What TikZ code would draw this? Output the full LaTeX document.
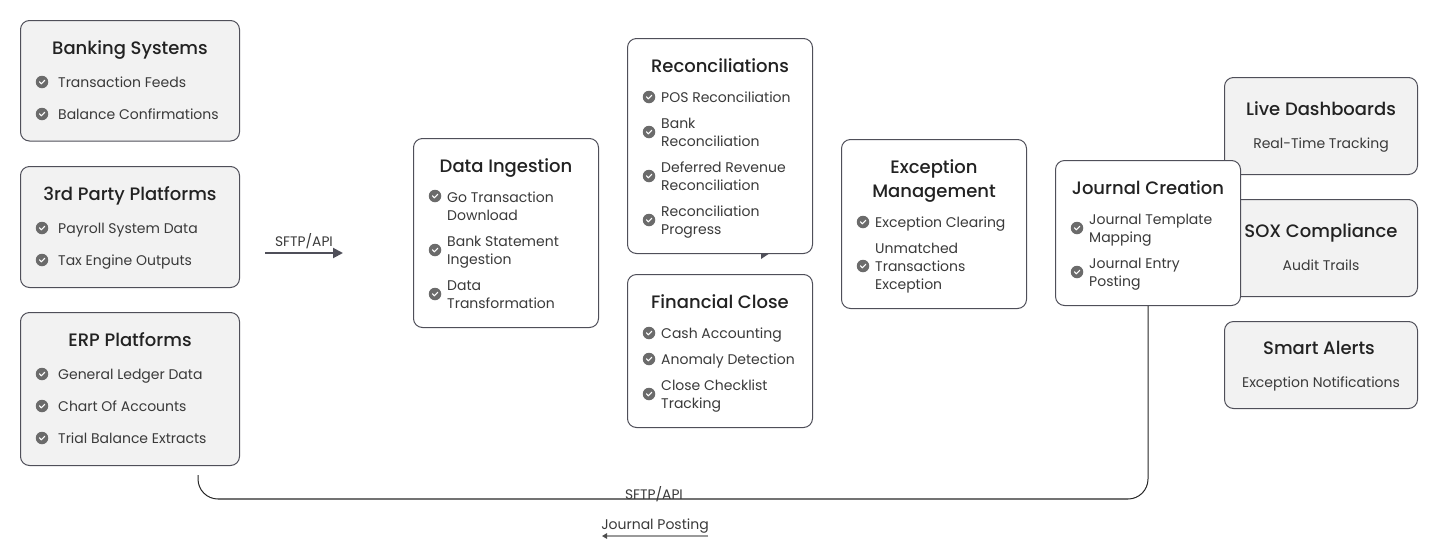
\documentclass[tikz,border=0pt]{standalone}
\usepackage{fontspec}
\setmainfont{Poppins}
\newfontfamily\titlefont{Poppins Medium}
\usetikzlibrary{arrows.meta}
\definecolor{edge}{HTML}{4F4F59}
\definecolor{greybox}{HTML}{F2F2F2}
\definecolor{bul}{HTML}{6B6B6B}
\definecolor{ink}{HTML}{222222}
\definecolor{ink2}{HTML}{3A3A3A}
\tikzset{
  x=1pt,y=-1pt,
  card/.style={draw=edge,line width=1pt,rounded corners=9pt,fill=white,inner sep=0},
  greycard/.style={card,fill=greybox},
  ttl/.style={inner sep=0,text=ink,align=center,font=\titlefont\fontsize{18}{24}\selectfont,execute at begin node=\strut,execute at end node=\strut},
  lbl/.style={inner sep=0,text=ink2,align=center,font=\fontsize{14}{18}\selectfont,execute at begin node=\strut,execute at end node=\strut},
  itm/.style={anchor=north west,inner sep=0,text=ink2,align=left,font=\fontsize{14}{18}\selectfont},
  dot/.style={circle,fill=bul,inner sep=0,minimum size=12.5pt},
}
\newcounter{itemno}
% \bitem{bullet x}{bullet y}{text x}{first line y}{text}
\newcommand{\bitem}[5]{%
  \stepcounter{itemno}%
  \node[dot] (b\theitemno) at (#1,#2) {};
  \draw[white,line width=1.1pt,line cap=round,line join=round]
    ([shift={(-2.6pt,0.2pt)}]b\theitemno.center) -- ([shift={(-0.7pt,-1.8pt)}]b\theitemno.center) -- ([shift={(2.8pt,1.8pt)}]b\theitemno.center);
  \node[itm] (i\theitemno) at (#3,#4-7.6) {\strut #5};
}
\newcommand{\card}[6]{% name style x1 y1 x2 y2
  \node[#2,minimum width=#5-#3,minimum height=#6-#4] (#1) at ({(#3+#5)/2},{(#4+#6)/2}) {};
}
\begin{document}
\begin{tikzpicture}
\useasboundingbox (0,0) rectangle (1438,539);
% left column
\card{bank}{greycard}{20.5}{20.5}{239.5}{141}
\node[ttl] (tbank) at (130,50) {Banking Systems};
\bitem{42}{82}{58}{82}{Transaction Feeds}
\bitem{42}{114}{58}{114}{Balance Confirmations}
\card{third}{greycard}{20.5}{166.5}{239.5}{287.5}
\node[ttl] (tthird) at (130,196) {3rd Party Platforms};
\bitem{42}{228}{58}{228}{Payroll System Data}
\bitem{42}{260}{58}{260}{Tax Engine Outputs}
\card{erp}{greycard}{20.5}{312.5}{239.5}{465.5}
\node[ttl] (terp) at (130,342) {ERP Platforms};
\bitem{42}{374}{58}{374}{General Ledger Data}
\bitem{42}{406}{58}{406}{Chart Of Accounts}
\bitem{42}{438}{58}{438}{Trial Balance Extracts}
% data ingestion
\card{ingest}{card}{413.5}{138.5}{598.5}{327.5}
\node[ttl] (tingest) at (506,168) {Data Ingestion};
\bitem{435}{196}{447}{197}{Go Transaction\\Download}
\bitem{435}{250}{447}{241}{Bank Statement\\Ingestion}
\bitem{435}{294}{447}{285}{Data\\Transformation}
% reconciliations
\coordinate (stubA) at (761,253);
\coordinate (stubB) at (770,253);
\coordinate (stubC) at (761,259);
\fill[edge] (stubA) -- (stubB) -- (stubC) -- cycle;
\card{recon}{card}{627.5}{38.5}{812.5}{253.5}
\node[ttl] (trecon) at (720,68) {Reconciliations};
\bitem{649}{97}{661}{97}{POS Reconciliation}
\bitem{649}{132}{661}{123}{Bank\\Reconciliation}
\bitem{649}{176}{661}{167}{Deferred Revenue\\Reconciliation}
\bitem{649}{220}{661}{211}{Reconciliation\\Progress}
% financial close
\card{close}{card}{627.5}{274.5}{812.5}{427.5}
\node[ttl] (tclose) at (720,304) {Financial Close};
\bitem{649}{333}{661}{333}{Cash Accounting}
\bitem{649}{359}{661}{359}{Anomaly Detection}
\bitem{649}{394}{661}{385}{Close Checklist\\Tracking}
% exception management
\card{exc}{card}{841.5}{139.5}{1026.5}{308.5}
\node[ttl] (texc) at (934,182) {Exception\\Management};
\bitem{863}{222}{875}{222}{Exception Clearing}
\bitem{863}{266}{875}{248}{Unmatched\\Transactions\\Exception}
% right column
\card{live}{greycard}{1224.5}{77.5}{1417.5}{174.5}
\node[ttl] (tlive) at (1321,111) {Live Dashboards};
\node[lbl] (llive) at (1321,145) {Real-Time Tracking};
\card{sox}{greycard}{1224.5}{199.5}{1417.5}{296.5}
\node[ttl] (tsox) at (1321,233) {SOX Compliance};
\node[lbl] (lsox) at (1321,267) {Audit Trails};
\card{smart}{greycard}{1224.5}{321.5}{1417.5}{408.5}
\node[ttl] (tsmart) at (1319,350) {Smart Alerts};
\node[lbl] (lsmart) at (1321,384) {Exception Notifications};
% journal creation
\card{journal}{card}{1055.5}{160.5}{1240.5}{305.5}
\node[ttl] (tjournal) at (1148,190) {Journal Creation};
\bitem{1077}{228}{1089}{219}{Journal Template\\Mapping}
\bitem{1077}{272}{1089}{263}{Journal Entry\\Posting}
% SFTP arrow
\coordinate (sa) at (265,253);
\coordinate (sb) at (343,253);
\draw[edge,line width=2pt,-{Triangle[length=10pt,width=10pt]}] (sa) -- (sb);
\node[lbl,font=\fontsize{13.8}{18}\selectfont] (sftp1) at (304,243) {SFTP/API};
% return connector
\coordinate (retEnd) at (198,475);
\coordinate (retCorner) at (198,499);
\coordinate (retL) at (218,499);
\coordinate (retR) at (1128,499);
\draw[black!85,line width=1pt,rounded corners=20pt] (journal.south) |- (retCorner) -- (retEnd);
\draw[black!55,line width=1.6pt] (retL) -- (retR);
\node[lbl,font=\fontsize{13.8}{18}\selectfont] (sftp2) at (654,496) {SFTP/API};
\node[lbl] (jp) at (655,526) {Journal Posting};
\coordinate (pa) at (708,536);
\coordinate (pb) at (602,536);
\draw[black!40,line width=1.4pt,-{Triangle[length=5pt,width=5.5pt,color=black!70]}] (pa) -- (pb);
\end{tikzpicture}
\end{document}
